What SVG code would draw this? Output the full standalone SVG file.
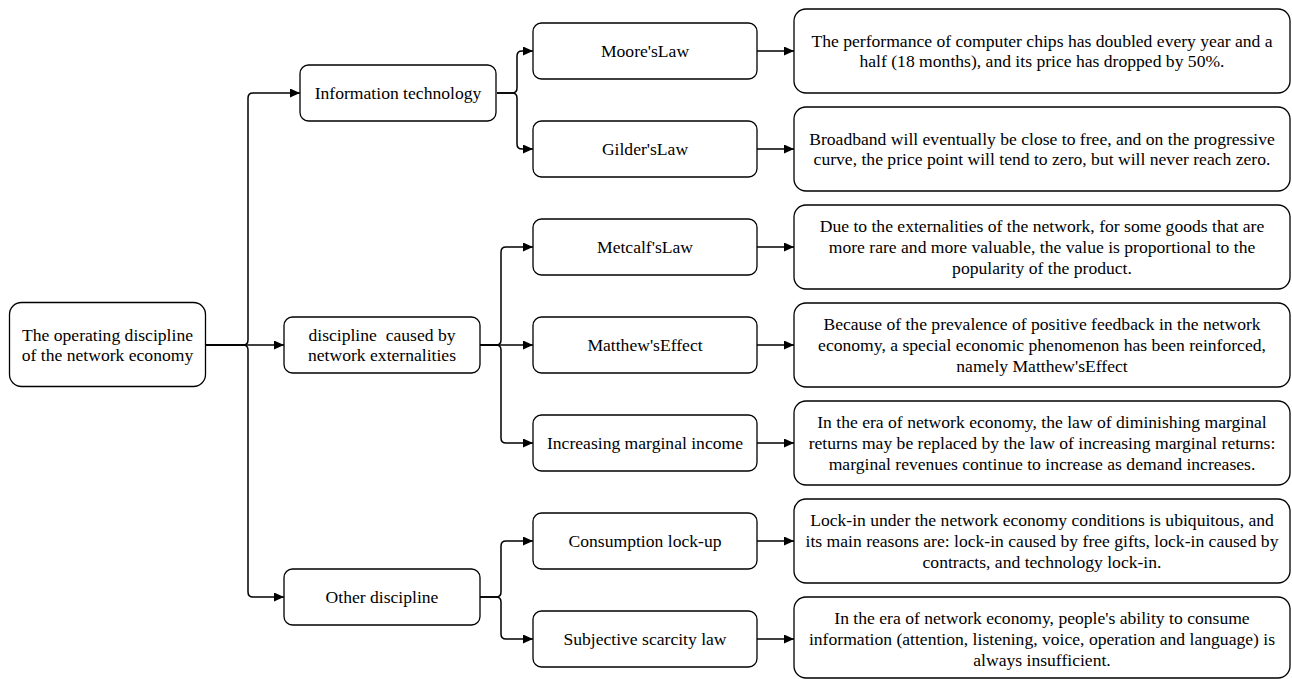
<svg xmlns="http://www.w3.org/2000/svg" width="1292" height="679" viewBox="0 0 1292 679">
<defs>
<marker id="arr" markerWidth="10" markerHeight="9" refX="10" refY="4.5" orient="auto" markerUnits="userSpaceOnUse">
<path d="M0,0 L10,4.5 L0,9 z" fill="#000"/>
</marker>
<style>
.box{fill:#fff;stroke:#000;stroke-width:1.3}
.t{font-family:"Liberation Serif","Times New Roman",serif;font-size:17.6px;fill:#000;text-anchor:middle}
.e{fill:none;stroke:#000;stroke-width:1.5;marker-end:url(#arr)}
</style>
</defs>
<rect width="1292" height="679" fill="#fff"/>
<g id="connectors">
<path class="e" d="M206,345 L243,345 Q248,345 248,340 L248,98 Q248,93 253,93 L300,93"/>
<path class="e" d="M206,345 L284,345"/>
<path class="e" d="M206,345 L243,345 Q248,345 248,350 L248,592 Q248,597 253,597 L284,597"/>
<path class="e" d="M497,93 L512,93 Q517,93 517,88 L517,56 Q517,51 522,51 L533,51"/>
<path class="e" d="M497,93 L512,93 Q517,93 517,98 L517,144 Q517,149 522,149 L533,149"/>
<path class="e" d="M480,345 L496,345 Q501,345 501,340 L501,252 Q501,247 506,247 L533,247"/>
<path class="e" d="M480,345 L533,345"/>
<path class="e" d="M480,345 L496,345 Q501,345 501,350 L501,438 Q501,443 506,443 L533,443"/>
<path class="e" d="M480,597 L496,597 Q501,597 501,592 L501,546 Q501,541 506,541 L533,541"/>
<path class="e" d="M480,597 L496,597 Q501,597 501,602 L501,634 Q501,639 506,639 L533,639"/>
<path class="e" d="M757,51 L794,51"/>
<path class="e" d="M757,149 L794,149"/>
<path class="e" d="M757,247 L794,247"/>
<path class="e" d="M757,345 L794,345"/>
<path class="e" d="M757,443 L794,443"/>
<path class="e" d="M757,541 L794,541"/>
<path class="e" d="M757,639 L794,639"/>
</g>
<g id="root">
<rect class="box" x="9.5" y="302.5" width="196" height="84" rx="12"/>
<text class="t" x="107.5" y="341">The operating discipline</text>
<text class="t" x="107.5" y="361">of the network economy</text>
</g>
<g id="info-tech">
<rect class="box" x="300" y="65" width="196" height="56" rx="8.5"/>
<text class="t" x="398" y="99">Information technology</text>
</g>
<g id="externalities">
<rect class="box" x="284" y="317" width="196" height="56" rx="8.5"/>
<text class="t" x="382" y="341" xml:space="preserve">discipline  caused by</text>
<text class="t" x="382" y="361">network externalities</text>
</g>
<g id="other">
<rect class="box" x="284" y="569" width="196" height="56" rx="8.5"/>
<text class="t" x="382" y="603">Other discipline</text>
</g>
<g id="moore">
<rect class="box" x="533" y="23" width="224" height="56" rx="8.5"/>
<text class="t" x="645" y="57">Moore'sLaw</text>
</g>
<g id="gilder">
<rect class="box" x="533" y="121" width="224" height="56" rx="8.5"/>
<text class="t" x="645" y="155">Gilder'sLaw</text>
</g>
<g id="metcalf">
<rect class="box" x="533" y="219" width="224" height="56" rx="8.5"/>
<text class="t" x="645" y="253">Metcalf'sLaw</text>
</g>
<g id="matthew">
<rect class="box" x="533" y="317" width="224" height="56" rx="8.5"/>
<text class="t" x="645" y="351">Matthew'sEffect</text>
</g>
<g id="increasing">
<rect class="box" x="533" y="415" width="224" height="56" rx="8.5"/>
<text class="t" x="645" y="449">Increasing marginal income</text>
</g>
<g id="lockup">
<rect class="box" x="533" y="513" width="224" height="56" rx="8.5"/>
<text class="t" x="645" y="547">Consumption lock-up</text>
</g>
<g id="scarcity">
<rect class="box" x="533" y="611" width="224" height="56" rx="8.5"/>
<text class="t" x="645" y="645">Subjective scarcity law</text>
</g>
<g id="d-moore">
<rect class="box" x="794" y="9" width="496" height="84" rx="12"/>
<text class="t" x="1042" y="47">The performance of computer chips has doubled every year and a</text>
<text class="t" x="1042" y="67">half (18 months), and its price has dropped by 50%.</text>
</g>
<g id="d-gilder">
<rect class="box" x="794" y="107" width="496" height="84" rx="12"/>
<text class="t" x="1042" y="145">Broadband will eventually be close to free, and on the progressive</text>
<text class="t" x="1042" y="165">curve, the price point will tend to zero, but will never reach zero.</text>
</g>
<g id="d-metcalf">
<rect class="box" x="794" y="205" width="496" height="84" rx="12"/>
<text class="t" x="1042" y="232">Due to the externalities of the network, for some goods that are</text>
<text class="t" x="1042" y="253">more rare and more valuable, the value is proportional to the</text>
<text class="t" x="1042" y="274">popularity of the product.</text>
</g>
<g id="d-matthew">
<rect class="box" x="794" y="303" width="496" height="84" rx="12"/>
<text class="t" x="1042" y="330">Because of the prevalence of positive feedback in the network</text>
<text class="t" x="1042" y="351">economy, a special economic phenomenon has been reinforced,</text>
<text class="t" x="1042" y="372">namely Matthew'sEffect</text>
</g>
<g id="d-increasing">
<rect class="box" x="794" y="401" width="496" height="84" rx="12"/>
<text class="t" x="1042" y="428">In the era of network economy, the law of diminishing marginal</text>
<text class="t" x="1042" y="449">returns may be replaced by the law of increasing marginal returns:</text>
<text class="t" x="1042" y="470">marginal revenues continue to increase as demand increases.</text>
</g>
<g id="d-lockup">
<rect class="box" x="794" y="499" width="496" height="84" rx="12"/>
<text class="t" x="1042" y="526">Lock-in under the network economy conditions is ubiquitous, and</text>
<text class="t" x="1042" y="547">its main reasons are: lock-in caused by free gifts, lock-in caused by</text>
<text class="t" x="1042" y="568">contracts, and technology lock-in.</text>
</g>
<g id="d-scarcity">
<rect class="box" x="794" y="597" width="496" height="81" rx="12"/>
<text class="t" x="1042" y="624">In the era of network economy, people's ability to consume</text>
<text class="t" x="1042" y="645">information (attention, listening, voice, operation and language) is</text>
<text class="t" x="1042" y="666">always insufficient.</text>
</g>
</svg>
